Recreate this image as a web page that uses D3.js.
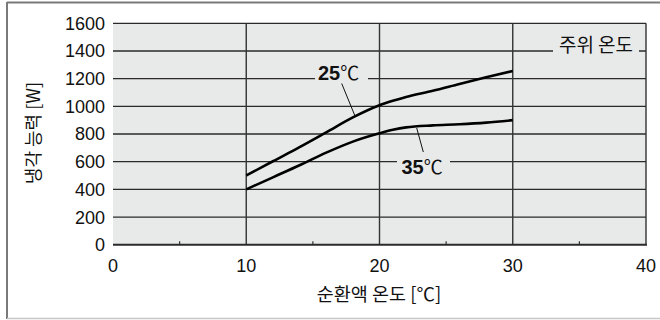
<!DOCTYPE html>
<html><head><meta charset="utf-8">
<script src="https://cdn.jsdelivr.net/npm/d3@7"></script>
<style>body{margin:0;background:#fff}</style>
</head><body><svg id="c" width="660" height="320"></svg>
<script>
const xTicks = [0, 10, 20, 30, 40];
const xMinorTicks = [5, 15, 25, 35];
const yTicks = [0, 200, 400, 600, 800, 1000, 1200, 1400, 1600];
const fluidTemp = [10, 12, 14, 16, 18, 20, 21, 22, 24, 26, 28, 30];
const capacity25 = [500, 603, 705, 812, 920, 1008, 1040, 1068, 1113, 1162, 1210, 1255];
const capacity35 = [400, 487, 574, 665, 745, 805, 830, 848, 862, 870, 882, 900];
const seriesLabels = ["25", "35"];
const ambientLabel = "주위 온도";
const xTitle = "순환액 온도 [℃]";
const yTitle = "냉각 능력 [W]";

const svg = d3.select("#c");
const L = 113, R = 646, T = 23.3, B = 244.7;
const x = d3.scaleLinear().domain([0, 40]).range([L, R]);
const y = d3.scaleLinear().domain([0, 1600]).range([B, T]);
const fontLatin = "'Liberation Sans', Arial, 'Noto Sans CJK KR', sans-serif";
const fontKr = "'Noto Sans CJK KR', 'Liberation Sans', sans-serif";
const bg = "#e8e9e9";

// outer frame
svg.append("line").attr("x1", 7).attr("x2", 660).attr("y1", 2.5).attr("y2", 2.5).attr("stroke", "#7a7a7a").attr("stroke-width", 2);
svg.append("line").attr("x1", 7).attr("x2", 7).attr("y1", 2).attr("y2", 319).attr("stroke", "#7a7a7a").attr("stroke-width", 2);
svg.append("line").attr("x1", 7).attr("x2", 660).attr("y1", 318.5).attr("y2", 318.5).attr("stroke", "#c8c8c8").attr("stroke-width", 1.5);

// plot background
svg.append("rect").attr("x", L).attr("y", T).attr("width", R - L).attr("height", B - T).attr("fill", bg);

// horizontal grid
svg.append("g").selectAll("line").data(yTicks.filter(d => d > 0)).join("line")
  .attr("x1", L).attr("x2", R).attr("y1", d => y(d)).attr("y2", d => y(d))
  .attr("stroke", "#2a2a2a").attr("stroke-width", 1.3);
// vertical grid
svg.append("g").selectAll("line").data(xTicks.filter(d => d > 0)).join("line")
  .attr("x1", d => x(d)).attr("x2", d => x(d)).attr("y1", T).attr("y2", B)
  .attr("stroke", "#333").attr("stroke-width", 1.4);
// minor ticks
svg.append("g").selectAll("line").data(xMinorTicks).join("line")
  .attr("x1", d => x(d)).attr("x2", d => x(d)).attr("y1", B).attr("y2", B - 3.5)
  .attr("stroke", "#333").attr("stroke-width", 1.2);
// bottom axis line
svg.append("line").attr("x1", L).attr("x2", R + 1).attr("y1", B).attr("y2", B).attr("stroke", "#2a2a2a").attr("stroke-width", 2);

// y tick labels
svg.append("g").selectAll("text").data(yTicks).join("text")
  .attr("x", 105).attr("y", d => y(d)).attr("dy", "0.36em").attr("text-anchor", "end")
  .attr("font-family", fontLatin).attr("font-size", 18).attr("fill", "#111").text(d => d);
// x tick labels
svg.append("g").selectAll("text").data(xTicks).join("text")
  .attr("x", d => x(d)).attr("y", 272).attr("text-anchor", "middle")
  .attr("font-family", fontLatin).attr("font-size", 18).attr("fill", "#111").text(d => d);

// axis titles
svg.append("text").attr("x", 379).attr("y", 301).attr("text-anchor", "middle")
  .attr("font-family", fontKr).attr("font-size", 18.5).attr("fill", "#111").text(xTitle);
svg.append("text").attr("transform", "translate(40,133) rotate(-90)").attr("text-anchor", "middle")
  .attr("font-family", fontKr).attr("font-size", 18).attr("fill", "#111").text(yTitle);

// curves
const line = d3.line().x(d => x(d[0])).y(d => y(d[1])).curve(d3.curveMonotoneX);
[capacity25, capacity35].forEach(vals => {
  svg.append("path").datum(fluidTemp.map((t, i) => [t, vals[i]]))
    .attr("d", line).attr("fill", "none").attr("stroke", "#000").attr("stroke-width", 2.6)
    .attr("stroke-linejoin", "round");
});

// label gaps
svg.append("rect").attr("x", 315).attr("y", 62).attr("width", 53).attr("height", 22).attr("fill", bg);
svg.append("rect").attr("x", 397).attr("y", 155).attr("width", 53).attr("height", 22).attr("fill", bg);
svg.append("rect").attr("x", 553).attr("y", 35).attr("width", 86).attr("height", 20).attr("fill", bg);

// leader lines
svg.append("line").attr("x1", 341.7).attr("y1", 83.5).attr("x2", 355).attr("y2", 116)
  .attr("stroke", "#111").attr("stroke-width", 1);
svg.append("line").attr("x1", 416.7).attr("y1", 128).attr("x2", 423.3).attr("y2", 152)
  .attr("stroke", "#111").attr("stroke-width", 1);

// series labels
function seriesLabel(px, py, num) {
  const t = svg.append("text").attr("x", px).attr("y", py).attr("fill", "#111");
  t.append("tspan").attr("font-family", fontLatin).attr("font-weight", "bold").attr("font-size", 20).text(num);
  t.append("tspan").attr("font-family", fontKr).attr("font-size", 19).text("℃");
}
seriesLabel(318, 79.5, seriesLabels[0]);
seriesLabel(401.5, 174, seriesLabels[1]);

// ambient label
svg.append("text").attr("x", 596).attr("y", 45).attr("dy", "0.35em").attr("text-anchor", "middle")
  .attr("font-family", fontKr).attr("font-size", 19).attr("fill", "#111").text(ambientLabel);
</script></body></html>
